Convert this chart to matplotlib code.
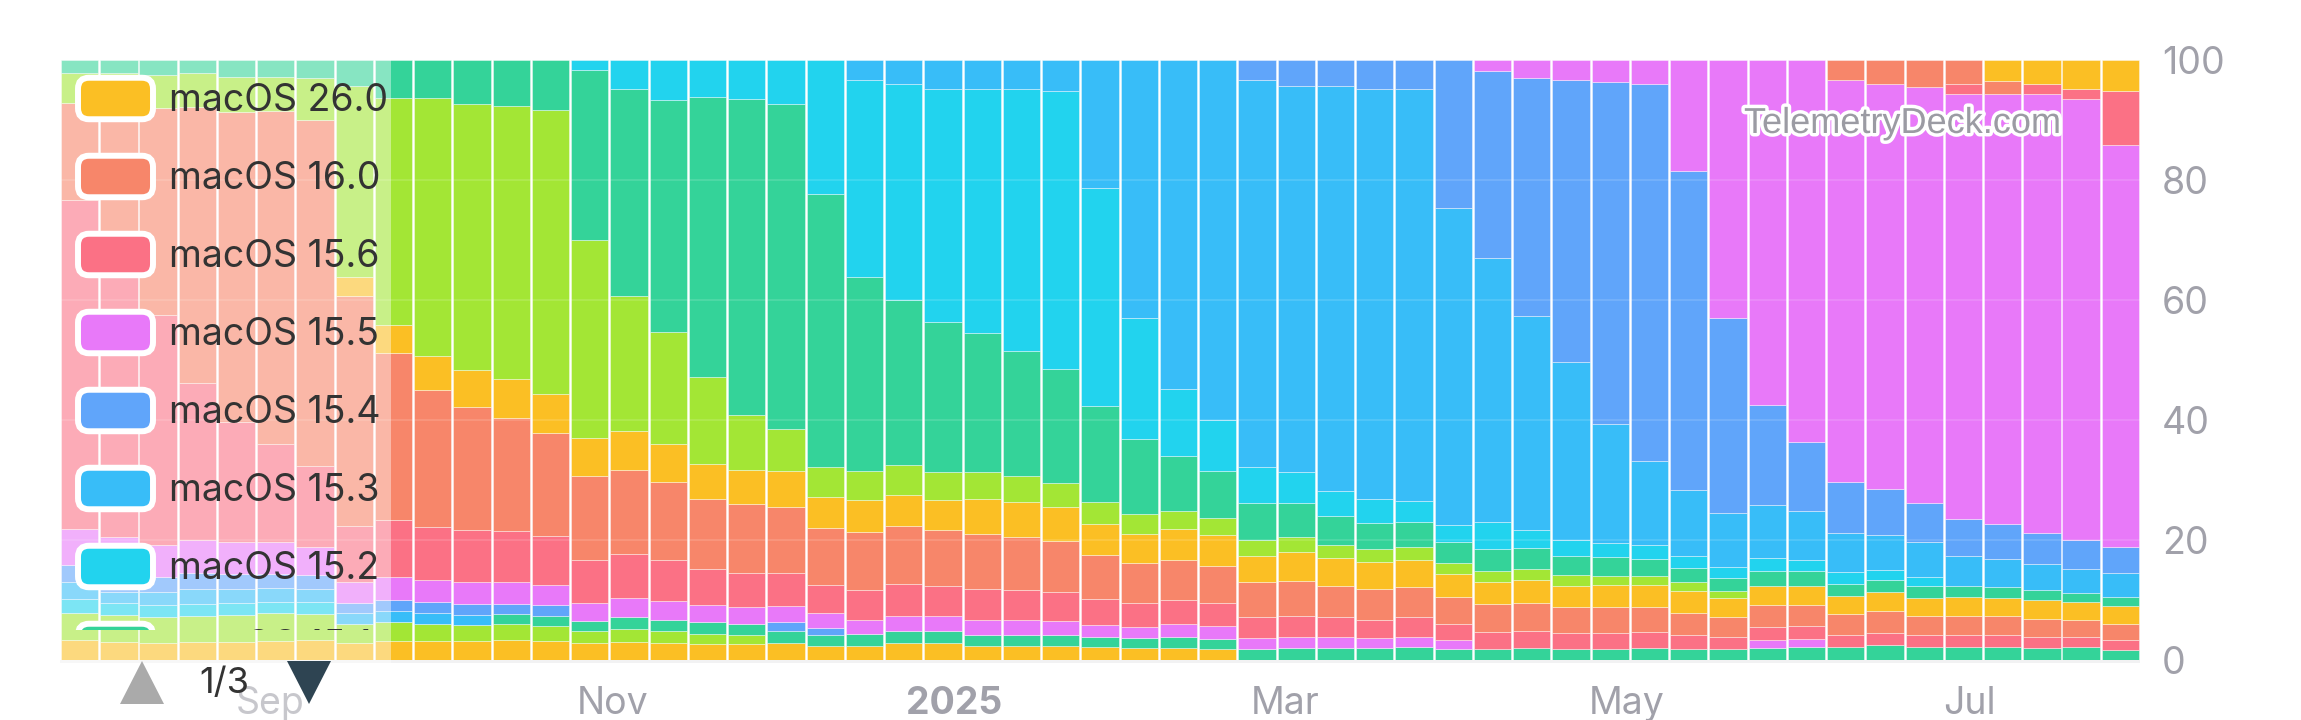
import numpy as np
import pandas as pd
import matplotlib
matplotlib.use("Agg")
import matplotlib.pyplot as plt
import matplotlib.dates as mdates
import matplotlib.patheffects as pe
from matplotlib.patches import FancyBboxPatch, Polygon, Rectangle
from matplotlib.transforms import Affine2D, Bbox

plt.rcParams['font.family'] = ['Inter', 'DejaVu Sans']

# weekly buckets (Mondays)
weeks = pd.date_range("2024-07-29", periods=53, freq="7D")

# share per version in %, bottom of the stack first
v13_5 = [3.2, 2.95, 2.77, 2.94, 2.94, 3.06, 3.22, 2.67, 3.06, 3.13, 3.13, 3.27, 3.06, 2.72,
         2.93, 2.72, 2.59, 2.59, 2.79, 2.24, 2.24, 2.79, 2.79, 2.24, 2.24, 2.24, 2.11, 1.90,
         1.90, 1.70] + [0] * 23
v13_6 = [4.56, 4.45, 4.24, 4.34, 4.57, 4.62, 4.45, 3.23, 3.2, 2.86, 2.65, 2.59, 2.45, 2.04,
         2.18, 2.04, 1.70, 1.50] + [0] * 35
v14_0 = [0] * 11 + [1.77, 1.77, 1.70, 1.90, 1.90, 1.90, 1.90, 2.04, 1.90, 2.04, 1.97, 1.97,
                    1.84, 1.84, 1.84, 1.63, 1.63, 1.84, 1.77, 1.77, 1.90, 1.90, 1.90, 2.04,
                    1.77, 1.77, 1.90, 1.77, 1.77, 1.90, 1.77, 1.77, 1.90, 2.04, 2.11, 2.38,
                    2.04, 2.04, 2.04, 1.90, 2.04, 1.63]
v14_1 = [2.4, 1.95, 2.05, 2.07, 1.94, 1.95, 1.94] + [0] * 46
v14_2 = [2.77, 1.95, 2.22, 2.5, 2.4, 2.22, 2.22, 1.78, 1.77, 1.70, 1.70] + [0] * 42
v14_3 = [2.78, 2.5, 2.5, 2.6, 2.5, 2.5, 2.22, 1.67, 1.84, 1.84, 1.70, 1.63, 1.77,
         0, 0, 0, 0, 0, 1.36, 1.16] + [0] * 33
v14_4 = [6.12, 6.56, 5.29, 5.46, 5.29, 5.28, 4.73, 3.51, 3.88, 3.74, 3.74, 3.67, 3.40, 2.93,
         3.27, 3.06, 2.86, 2.72, 2.65, 2.38, 2.38, 2.45, 2.45, 2.52, 2.52, 2.38, 2.04, 1.97,
         2.11, 2.04, 1.84, 1.90, 1.84, 1.70, 1.70, 1.50] + [0] * 7 + [1.36, 1.36] + [0] * 8
v14_5 = [54.8, 46.8, 38.4, 26.2, 20.0, 16.3, 13.5, 9.4, 9.46, 8.84,
         8.71, 8.50, 8.16, 7.14, 7.28, 6.80, 5.99, 5.78, 5.65, 4.76,
         4.97, 5.37, 5.03, 5.10, 4.97, 4.76, 4.29, 3.88, 4.01, 3.88,
         3.40, 3.54, 3.27, 3.06, 3.27, 2.72, 2.86, 2.86, 2.65, 2.65,
         2.72, 2.38, 2.04, 2.24, 2.24, 2.04, 2.04, 2.04, 2.04, 2.04,
         1.84, 1.70, 1.56]
v14_6 = [16.2, 25.7, 34.6, 46.2, 51.8, 55.6, 57.7, 38.4, 27.9, 22.9,
         20.5, 18.8, 17.2, 14.1, 14.1, 13.1, 11.7, 11.4, 11.0, 9.52,
         9.66, 9.73, 9.39, 9.25, 8.91, 8.50, 7.35, 6.80, 6.67, 6.26,
         5.92, 5.78, 5.31, 5.10, 5.10, 4.42, 4.56, 4.63, 4.29, 4.29,
         4.08, 3.67, 3.20, 3.54, 3.40, 3.40, 3.61, 3.13, 3.13, 3.13,
         2.93, 2.79, 2.65]
v14_7 = [0] * 7 + [3.17, 4.76, 5.65,
                   6.12, 6.46, 6.53, 6.26, 6.53, 6.39, 5.92, 5.78, 5.99, 5.10,
                   5.31, 5.10, 5.03, 5.78, 5.78, 5.65, 5.10, 4.76, 5.24, 5.10,
                   4.42, 4.76, 4.56, 4.42, 4.42, 3.88, 3.81, 3.88, 3.54, 3.74,
                   3.74, 3.61, 3.20, 3.27, 3.27, 3.06, 3.20, 3.06, 3.20, 3.06,
                   3.27, 3.06, 3.06]
v15_0 = [5.0, 4.9, 5.46, 5.58, 5.74, 5.63, 7.06, 31.8, 37.8, 43.1,
         44.4, 45.6, 47.3, 33.0, 22.5, 18.6, 14.4, 9.12, 6.94, 5.10,
         4.90, 4.97, 4.63, 4.56, 4.35, 4.08, 3.74, 3.27, 3.06, 2.93,
         2.59, 2.52, 2.24, 2.18, 2.18, 1.77, 1.84, 1.77, 1.77, 1.50,
         1.50, 1.50, 1.22] + [0] * 10
v15_1 = [2.1, 2.2, 2.5, 2.22, 2.89, 2.89, 2.95, 4.34, 6.4, 6.26,
         7.28, 7.62, 8.30, 28.4, 34.4, 38.8, 46.8, 52.7, 54.1, 45.4,
         32.3, 27.6, 24.9, 23.1, 20.8, 19.0, 16.0, 12.6, 9.05, 7.69,
         6.12, 5.65, 4.76, 4.42, 4.15, 3.54, 3.54, 3.54, 3.20, 3.06,
         2.79, 2.38, 2.18, 2.52, 2.38, 2.04, 2.04, 1.97, 1.84, 1.84,
         1.63, 1.43, 1.43]
v15_2 = [0] * 13 + [1.63, 4.90, 6.60, 6.12, 6.46, 7.41, 22.4,
                    32.8, 36.0, 39.0, 40.7, 43.7, 46.3, 36.3, 20.2, 11.2, 8.64,
                    5.99, 5.24, 4.22, 3.95, 3.67, 2.86, 4.49, 3.06, 2.72, 2.38,
                    2.31, 1.90, 1.90, 2.04, 1.97, 1.97, 1.70, 1.50] + [0] * 5
v15_3 = [0] * 20 + [3.40, 4.08, 4.76, 4.90, 4.90, 5.24, 21.4, 43.0, 54.9, 60.0,
                    64.6, 64.3, 67.5, 68.5, 68.6, 52.9, 44.1, 35.7, 29.6, 19.8,
                    14.1, 11.1, 8.98, 8.84, 8.03, 6.46, 5.78, 5.85, 5.10, 4.63,
                    4.29, 4.01, 4.01]
v15_4 = [0] * 30 + [3.40, 4.42, 4.42, 4.76, 4.90, 24.6, 31.2, 39.7, 47.1, 57.1,
                    62.8, 53.2, 32.4, 16.7, 11.6, 8.57, 7.69, 6.60, 6.12, 5.78,
                    5.24, 4.90, 4.35]
v15_5 = [0] * 36 + [1.84, 2.99, 3.33, 3.67, 4.01, 18.5, 43.1, 57.6, 63.7, 66.9,
                    67.6, 69.3, 70.9, 71.8, 73.0, 73.4, 67.0]
v15_6 = [0] * 48 + [1.70, 0, 1.67, 1.67, 9.05]
v16_0 = [0] * 45 + [3.40, 3.95, 4.56, 3.95, 2.17, 0, 0, 0]
v26_0 = [0] * 49 + [3.5, 4.06, 4.9, 5.1]

AMBER = "#fbbf24"
ORANGE = "#f7866a"
ROSE = "#fb7185"
FUCHSIA = "#e879f9"
BLUE = "#60a5fa"
SKY = "#38bdf8"
CYAN = "#22d3ee"
EMERALD = "#34d399"
LIME = "#a3e635"
GRAY = "#a1a1aa"

stack = [(v13_5, AMBER), (v13_6, LIME), (v14_0, EMERALD), (v14_1, CYAN), (v14_2, SKY),
         (v14_3, BLUE), (v14_4, FUCHSIA), (v14_5, ROSE), (v14_6, ORANGE), (v14_7, AMBER),
         (v15_0, LIME), (v15_1, EMERALD), (v15_2, CYAN), (v15_3, SKY), (v15_4, BLUE),
         (v15_5, FUCHSIA), (v15_6, ROSE), (v16_0, ORANGE), (v26_0, AMBER)]

legend_labels = ["macOS 26.0", "macOS 16.0", "macOS 15.6", "macOS 15.5",
                 "macOS 15.4", "macOS 15.3", "macOS 15.2", "macOS 15.1"]
legend_colors = [AMBER, ORANGE, ROSE, FUCHSIA, BLUE, SKY, CYAN, EMERALD]

month_ticks = ["2024-09-01", "2024-11-01", "2025-01-01", "2025-03-01", "2025-05-01", "2025-07-01"]
month_labels = ["Sep", "Nov", "2025", "Mar", "May", "Jul"]

W, H = 2301, 720
fig = plt.figure(figsize=(W / 100, H / 100), dpi=100)
pix = Affine2D().scale(1, -1).translate(0, H)   # pixel coords, origin top-left

ax = fig.add_axes([60 / W, 1 - 659.5 / H, 2080 / W, 599.5 / H])

x = mdates.date2num(weeks.to_pydatetime())
vals = np.array([s for s, _ in stack], dtype=float)
vals = vals / vals.sum(axis=0) * 100
bottom = np.zeros(len(x))
for row, (_, c) in zip(vals, stack):
    m = row > 0
    ax.bar(x[m], row[m], width=6.65, bottom=bottom[m], color=c,
           edgecolor=(1, 1, 1, 0.4), linewidth=0.7, zorder=2)
    bottom += row

for yv in [20, 40, 60, 80]:
    ax.axhline(yv, color="white", alpha=0.15, lw=1.2, zorder=3)

ax.set_xlim(x[0] - 3.5, x[-1] + 3.5)
ax.set_ylim(0, 100)
for s in ax.spines.values():
    s.set_visible(False)
ax.set_xticks(mdates.date2num(pd.to_datetime(month_ticks).to_pydatetime()), month_labels)
for lab in ax.get_xticklabels():
    if lab.get_text() == "2025":
        lab.set_fontweight("bold")
ax.yaxis.tick_right()
ax.set_yticks([0, 20, 40, 60, 80, 100])
ax.tick_params(axis="x", length=0, pad=19, labelsize=27, labelcolor=GRAY)
ax.tick_params(axis="y", length=0, pad=16, labelsize=27, labelcolor=GRAY)

# thin baseline strip under the bars
fig.patches.append(Rectangle((60, 659.5), 2080, 3.5, transform=pix,
                             facecolor="#f2f2f3", edgecolor="none", zorder=1))
# washed-out legend background
fig.patches.append(Rectangle((60, 40), 331, 680, transform=pix,
                             facecolor=(1, 1, 1, 0.41), edgecolor="none", zorder=1.5))

clip = Bbox.from_extents(0, H - 630, W, H)
for i, (lab, c) in enumerate(zip(legend_labels, legend_colors)):
    cy = 98.5 + 78 * i
    sw = FancyBboxPatch((78, cy - 20.75), 75, 41.5, boxstyle="round,pad=0,rounding_size=11",
                        transform=pix, facecolor=c, edgecolor="white", linewidth=4.3, zorder=2)
    sw.set_clip_box(clip)
    fig.patches.append(sw)
    t = fig.text(169, cy + 12.5, lab, transform=pix, fontsize=27, color="#333333",
                 va="baseline", ha="left", zorder=2)
    t.set_clip_box(clip)
    t.set_clip_on(True)

# legend pager
fig.patches.append(Polygon([(120, 704), (164, 704), (142, 661)], closed=True, transform=pix,
                           facecolor="#aaaaaa", edgecolor="none", zorder=2))
fig.patches.append(Polygon([(287, 661), (331, 661), (309, 704)], closed=True, transform=pix,
                           facecolor="#2e4452", edgecolor="none", zorder=2))
fig.text(224, 693, "1/3", transform=pix, fontsize=26, color="#333333",
         ha="center", va="baseline", zorder=2)

fig.text(1744, 133, "TelemetryDeck.com", transform=pix, fontsize=26,
         family="Liberation Sans", color="#9b9ba3", va="baseline", ha="left", zorder=3,
         path_effects=[pe.withStroke(linewidth=5, foreground="white")])

fig.savefig("out.png", dpi=100)
